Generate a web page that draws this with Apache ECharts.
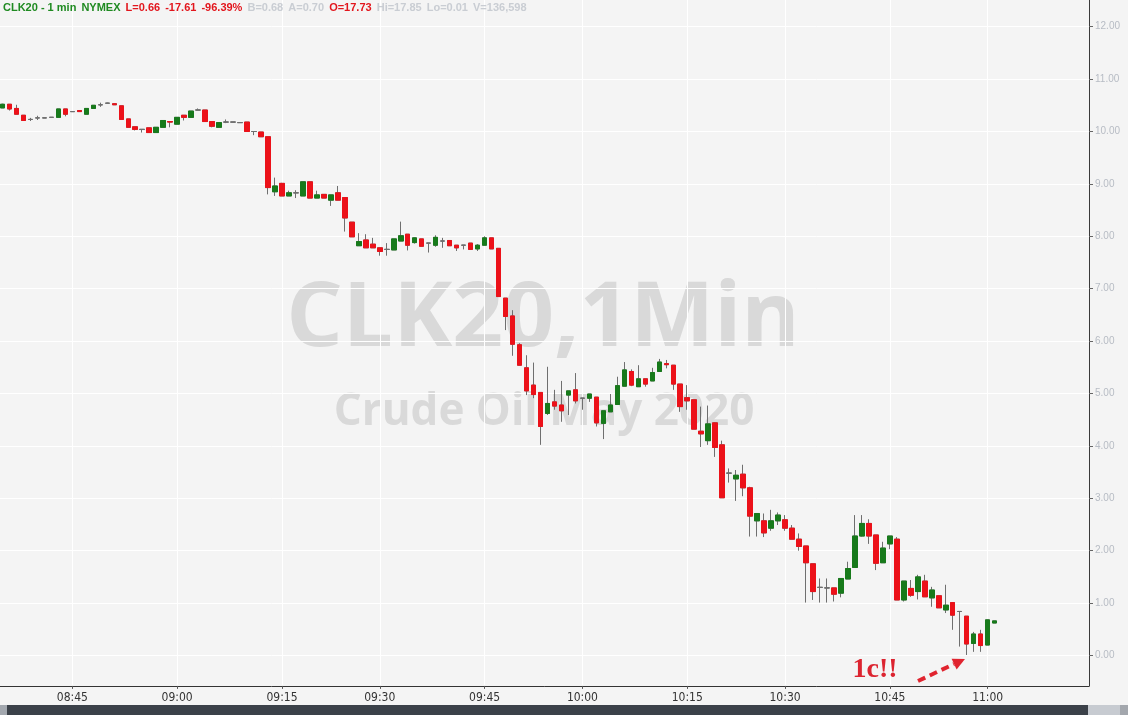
<!DOCTYPE html>
<html>
<head>
<meta charset="utf-8">
<title>CLK20 1 min</title>
<style>
html, body { margin: 0; padding: 0; background: #f4f4f4; }
#chart { width: 1128px; height: 715px; }
</style>
<script src="https://cdn.jsdelivr.net/npm/echarts@6/dist/echarts.min.js"></script>
</head>
<body>
<div id="chart"></div>
<script>
// CLK20 1 min bars, 08:35 -> 11:01 (a few minutes have no bar)
const startTime = '08:35';
const skippedMinutes = ['09:23', '09:53', '10:23', '10:53'];
const emptySlots = 13; // blank space right of the last bar

const opens = [10.45,10.52,10.44,10.31,10.23,10.26,10.26,10.27,10.27,10.43,
  10.38,10.40,10.33,10.44,10.51,10.54,10.53,10.49,10.24,10.09,
  10.04,10.07,9.98,10.08,10.19,10.14,10.31,10.27,10.41,10.41,
  10.19,10.08,10.18,10.18,10.17,10.18,10.00,9.99,9.90,8.85,
  9.01,8.77,8.83,8.77,9.04,8.73,8.80,8.69,8.83,8.74,
  8.27,7.82,7.93,7.85,7.78,7.75,7.74,7.91,8.04,7.88,
  7.95,7.87,7.83,7.91,7.92,7.83,7.83,7.87,7.76,7.83,
  7.97,7.77,6.82,6.48,5.93,5.49,5.16,5.02,4.62,4.84,
  4.78,4.97,5.07,4.91,4.91,4.93,4.43,4.65,4.79,5.14,
  5.42,5.13,5.28,5.24,5.42,5.57,5.54,5.18,4.92,4.88,
  4.28,4.10,4.44,4.02,3.48,3.37,3.46,3.20,2.57,2.57,
  2.43,2.57,2.59,2.43,2.22,2.09,1.75,1.30,1.29,1.29,
  1.19,1.46,1.68,2.28,2.52,2.30,1.77,2.13,2.22,1.06,
  1.28,1.22,1.42,1.10,1.14,0.87,1.01,0.84,0.75,0.23,
  0.41,0.20,0.62];
const closes = [10.52,10.43,10.33,10.21,10.23,10.26,10.26,10.27,10.43,10.33,
  10.38,10.38,10.44,10.50,10.51,10.54,10.51,10.23,10.08,10.04,
  10.04,9.98,10.08,10.21,10.18,10.27,10.27,10.39,10.41,10.19,
  10.10,10.17,10.18,10.18,10.17,10.00,10.00,9.90,8.93,8.96,
  8.77,8.83,8.83,9.04,8.73,8.79,8.73,8.79,8.69,8.35,
  7.99,7.90,7.78,7.78,7.71,7.75,7.95,8.01,7.83,7.97,
  7.81,7.87,7.98,7.91,7.82,7.78,7.83,7.75,7.83,7.97,
  7.76,6.85,6.47,5.94,5.54,5.05,4.98,4.37,4.81,4.76,
  4.67,5.05,4.86,4.91,4.99,4.44,4.67,4.78,5.15,5.45,
  5.16,5.28,5.18,5.40,5.60,5.55,5.18,4.75,4.86,4.32,
  4.23,4.42,3.97,3.01,3.48,3.44,3.20,2.66,2.71,2.34,
  2.57,2.68,2.43,2.22,2.08,1.77,1.22,1.30,1.29,1.17,
  1.47,1.66,2.28,2.52,2.28,1.76,2.05,2.28,1.06,1.42,
  1.15,1.50,1.12,1.25,0.91,0.96,0.77,0.84,0.22,0.41,
  0.19,0.68,0.66];
const lows = [10.45,10.40,10.33,10.21,10.20,10.22,10.26,10.26,10.27,10.29,
  10.38,10.38,10.33,10.44,10.47,10.54,10.51,10.23,10.08,10.02,
  9.98,9.98,9.98,10.08,10.08,10.14,10.21,10.27,10.41,10.19,
  10.08,10.08,10.16,10.18,10.17,10.00,9.93,9.90,8.80,8.77,
  8.77,8.77,8.73,8.77,8.73,8.73,8.73,8.58,8.69,8.09,
  7.99,7.82,7.78,7.78,7.63,7.63,7.74,7.91,7.73,7.86,
  7.81,7.69,7.80,7.78,7.82,7.72,7.75,7.75,7.72,7.83,
  7.76,6.85,6.21,5.72,5.54,4.97,4.91,4.02,4.59,4.69,
  4.46,4.59,4.81,4.69,4.84,4.37,4.13,4.65,4.79,5.14,
  5.14,5.13,5.13,5.24,5.42,5.48,5.07,4.65,4.69,4.32,
  3.98,4.02,3.79,3.01,3.30,2.95,3.04,2.27,2.27,2.26,
  2.38,2.49,2.38,2.22,2.00,1.01,1.06,1.01,1.01,1.03,
  1.11,1.46,1.68,2.27,2.13,1.63,1.77,2.03,1.06,1.03,
  1.12,1.07,1.12,0.93,0.91,0.81,0.49,0.17,0.01,0.07,
  0.07,0.20,0.62];
const highs = [10.53,10.52,10.51,10.31,10.26,10.30,10.26,10.27,10.43,10.43,
  10.38,10.40,10.44,10.50,10.55,10.55,10.54,10.49,10.24,10.09,
  10.04,10.07,10.08,10.21,10.19,10.27,10.31,10.39,10.44,10.41,
  10.19,10.17,10.23,10.18,10.17,10.18,10.00,9.99,9.90,9.12,
  9.02,8.87,8.88,9.04,9.04,8.87,8.80,8.79,8.96,8.74,
  8.27,8.06,8.04,7.97,7.78,7.87,7.95,8.28,8.04,7.98,
  7.95,7.87,8.02,7.97,7.92,7.83,7.83,7.87,7.85,8.00,
  7.97,7.77,6.82,6.59,5.96,5.73,5.59,5.02,5.51,5.07,
  5.24,5.05,5.39,4.91,4.99,4.93,4.67,4.99,5.32,5.60,
  5.46,5.54,5.28,5.49,5.66,5.64,5.54,5.18,5.16,4.88,
  4.75,4.77,4.45,4.10,3.57,3.54,3.64,3.22,2.71,2.71,
  2.78,2.73,2.68,2.49,2.33,2.09,1.75,1.47,1.47,1.29,
  1.47,1.79,2.68,2.68,2.60,2.30,2.17,2.28,2.26,1.42,
  1.44,1.54,1.54,1.31,1.14,1.35,1.01,0.84,0.75,0.45,
  0.49,0.68,0.66];

const yMin = -1, yMax = 13, yStep = 1;

// build minute labels
function toMin(s) { const p = s.split(':'); return +p[0] * 60 + +p[1]; }
function fmt(t) { return String(Math.floor(t / 60)).padStart(2, '0') + ':' + String(t % 60).padStart(2, '0'); }
const times = [];
let tm = toMin(startTime);
while (times.length < opens.length + emptySlots) {
  const s = fmt(tm);
  if (skippedMinutes.indexOf(s) < 0) times.push(s);
  tm++;
}
const quarterHour = function (idx, val) { return +val.slice(3) % 15 === 0; };

const UP = '#177a1b', DOWN = '#ec1119', WICK = '#6f6f6f';

// gray wicks underneath, coloured bodies on top
const wickData = opens.map((o, i) => [o, closes[i], lows[i], highs[i]]);
const bodyData = opens.map((o, i) => {
  const c = closes[i];
  if (o === c) {
    return { value: [o, c, o, c], itemStyle: { color: WICK, color0: WICK, borderColor: WICK, borderColor0: WICK } };
  }
  return [o, c, Math.min(o, c), Math.max(o, c)];
});

const headFont = { fontSize: 11, fontWeight: 'bold', fontFamily: 'Liberation Sans', padding: [0, 1, 0, 1] };

const chart = echarts.init(document.getElementById('chart'));
const option = {
  backgroundColor: '#f4f4f4',
  animation: false,
  title: {
    left: 2, top: 2, padding: 0,
    text: '{g|CLK20 - 1 min} {g|NYMEX} {r|L=0.66} {r|-17.61} {r|-96.39%} {l|B=0.68} {l|A=0.70} {r|O=17.73} {l|Hi=17.85} {l|Lo=0.01} {l|V=136,598}',
    textStyle: {
      fontSize: 11, fontWeight: 'bold', fontFamily: 'Liberation Sans',
      rich: {
        g: Object.assign({ color: '#1f8a21' }, headFont),
        r: Object.assign({ color: '#e2161d' }, headFont),
        l: Object.assign({ color: '#c9cdd3' }, headFont)
      }
    }
  },
  grid: [
    { left: -1, right: 39, top: -25.7, bottom: 7.1, containLabel: false, outerBoundsMode: 'none' },
    { left: 2.5, right: 42.5, top: 0, bottom: 29, containLabel: false, outerBoundsMode: 'none' }
  ],
  xAxis: [
    {
      type: 'category', gridIndex: 0, data: times, boundaryGap: true, offset: -22,
      axisLine: { onZero: false, lineStyle: { color: '#333', width: 1 } },
      axisTick: { show: true, alignWithLabel: true, interval: quarterHour, length: 3, lineStyle: { color: '#555' } },
      axisLabel: { interval: quarterHour, color: '#333', fontSize: 12, margin: 6,
        fontFamily: '"Liberation Sans Narrow", "DejaVu Sans Condensed", sans-serif' },
      splitLine: { show: false }
    },
    {
      type: 'category', gridIndex: 1, data: times, boundaryGap: false,
      axisLine: { show: false }, axisTick: { show: false }, axisLabel: { show: false },
      splitLine: { show: true, interval: quarterHour, lineStyle: { color: '#ffffff', width: 1 } }
    }
  ],
  yAxis: [
    {
      type: 'value', gridIndex: 0, position: 'right', min: yMin, max: yMax, interval: yStep,
      axisLine: { show: false },
      axisTick: { show: true, length: 4, lineStyle: { color: '#666' } },
      axisLabel: { color: '#b7bcc4', fontSize: 10, margin: 6, fontFamily: 'Liberation Sans',
        formatter: function (v) { return v < 0 ? '' : v.toFixed(2); } },
      splitLine: { show: true, lineStyle: { color: '#ffffff', width: 1 } }
    },
    {
      type: 'value', gridIndex: 1, position: 'right', offset: 3.5, min: 0, max: 1,
      axisLine: { show: true, onZero: false, lineStyle: { color: '#3a3a3a', width: 1 } },
      axisTick: { show: false }, axisLabel: { show: false }, splitLine: { show: false }
    }
  ],
  graphic: [
    // watermark
    { type: 'text', x: 543, y: 321, z: -1, silent: true,
      style: { text: 'CLK20,1Min', fill: '#d9d9d9', font: 'bold 89px "Open Sans"', align: 'center', verticalAlign: 'middle' } },
    { type: 'text', x: 544, y: 412, z: -1, silent: true,
      style: { text: 'Crude Oil May 2020', fill: '#d9d9d9', font: 'bold 44px "Open Sans"', align: 'center', verticalAlign: 'middle' } },
    // 1c!! note
    { type: 'text', x: 875, y: 670, z: 50,
      style: { text: '1c!!', fill: '#dc2430', font: 'bold 28px "Liberation Serif"', align: 'center', verticalAlign: 'middle' } },
    { type: 'line', z: 50, shape: { x1: 918, y1: 681, x2: 954, y2: 664 },
      style: { stroke: '#e0242f', lineWidth: 4, lineDash: [8, 5] } },
    { type: 'polygon', z: 50, shape: { points: [[965, 659], [956.6, 669.5], [951.6, 658.7]] },
      style: { fill: '#e0242f' } },
    // scrollbar strip at the bottom
    { type: 'rect', z: 100, shape: { x: 0, y: 705, width: 7, height: 10 }, style: { fill: '#a3a8af' } },
    { type: 'rect', z: 100, shape: { x: 7, y: 705, width: 1081, height: 10 }, style: { fill: '#3b4149' } },
    { type: 'rect', z: 100, shape: { x: 1088, y: 705, width: 32, height: 10 }, style: { fill: '#c7cbd1' } },
    { type: 'rect', z: 100, shape: { x: 1120, y: 705, width: 8, height: 10 }, style: { fill: '#a3a7ad' } }
  ],
  series: [
    {
      name: 'wick', type: 'candlestick', xAxisIndex: 0, yAxisIndex: 0, barWidth: 5,
      data: wickData,
      itemStyle: { color: WICK, color0: WICK, borderColor: WICK, borderColor0: WICK, borderWidth: 1 }
    },
    {
      name: 'CLK20', type: 'candlestick', xAxisIndex: 0, yAxisIndex: 0, barWidth: 5,
      data: bodyData,
      itemStyle: { color: UP, color0: DOWN, borderColor: UP, borderColor0: DOWN, borderWidth: 1 }
    }
  ]
};
chart.setOption(option);
window.addEventListener('resize', () => {
  chart.resize();
});
</script>
</body>
</html>
